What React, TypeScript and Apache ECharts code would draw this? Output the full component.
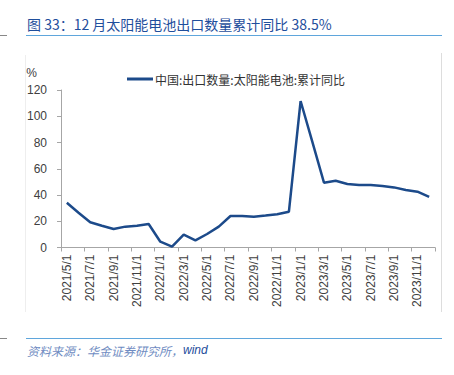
import React, { useEffect, useRef } from "react";
import * as echarts from "echarts";

const categories: string[] = [
  "2021/5/1", "2021/6/1", "2021/7/1", "2021/8/1", "2021/9/1", "2021/10/1", "2021/11/1", "2021/12/1",
  "2022/1/1", "2022/2/1", "2022/3/1", "2022/4/1", "2022/5/1", "2022/6/1", "2022/7/1", "2022/8/1",
  "2022/9/1", "2022/10/1", "2022/11/1", "2022/12/1",
  "2023/1/1", "2023/2/1", "2023/3/1", "2023/4/1", "2023/5/1", "2023/6/1", "2023/7/1", "2023/8/1",
  "2023/9/1", "2023/10/1", "2023/11/1", "2023/12/1",
];

const exportYoY: number[] = [
  34.1, 26.5, 19.2, 16.6, 14.1, 15.9, 16.6, 17.9,
  4.4, 0.6, 9.8, 5.5, 10.3, 15.9, 24.0, 24.0,
  23.5, 24.3, 25.3, 27.3,
  111.6, 80.6, 49.4, 50.9, 48.4, 47.6, 47.6, 46.9,
  45.8, 43.8, 42.5, 38.5,
];

const seriesName = "中国:出口数量:太阳能电池:累计同比";
const titleText = "图 33：12 月太阳能电池出口数量累计同比 38.5%";
const sourcePrefix = "资料来源：华金证券研究所，";
const sourceSuffix = "wind";
const yTicks = { min: 0, max: 120, interval: 20 };

export default function App() {
  const ref = useRef<HTMLDivElement>(null);
  useEffect(() => {
    document.body.style.margin = "0";
    if (!ref.current) return;
    const chart = echarts.init(ref.current, null, { renderer: "svg" });
    chart.setOption({
      animation: false,
      backgroundColor: "#ffffff",
      grid: { left: 61, right: 19, top: 90, bottom: 127.5, containLabel: false },
      legend: {
        top: 68,
        left: 122,
        itemWidth: 26,
        itemHeight: 3,
        itemGap: 2,
        icon: "rect",
        textStyle: { fontFamily: "Noto Sans CJK SC", fontSize: 12, color: "#333333", padding: [0, 0, 0, -3] },
        data: [{ name: seriesName, icon: "rect" }],
      },
      xAxis: {
        type: "category",
        data: categories,
        boundaryGap: true,
        axisLine: { lineStyle: { color: "#a6a6a6", width: 1 } },
        axisTick: { show: true, interval: 1, length: 4, lineStyle: { color: "#a6a6a6" } },
        axisLabel: {
          interval: 1,
          rotate: 90,
          margin: 7,
          fontSize: 12,
          fontFamily: "Liberation Sans, Arial, sans-serif",
          color: "#404040",
        },
      },
      yAxis: {
        type: "value",
        min: yTicks.min,
        max: yTicks.max,
        interval: yTicks.interval,
        name: "%",
        nameLocation: "end",
        nameGap: 11,
        nameTextStyle: { fontSize: 12, color: "#404040", fontFamily: "Liberation Sans, Arial, sans-serif", align: "right", padding: [0, 24, 0, 0] },
        axisLine: { show: true, lineStyle: { color: "#a6a6a6", width: 1 } },
        axisTick: { show: true, length: 4, lineStyle: { color: "#a6a6a6" } },
        splitLine: { show: false },
        axisLabel: {
          fontSize: 12,
          margin: 14,
          fontFamily: "Liberation Sans, Arial, sans-serif",
          color: "#404040",
        },
      },
      series: [
        {
          name: seriesName,
          type: "line",
          data: exportYoY,
          symbol: "none",
          lineStyle: { color: "#1c4a8a", width: 2.5 },
          itemStyle: { color: "#1c4a8a" },
        },
      ],
      graphic: [
        {
          type: "text",
          left: 27,
          top: 17,
          style: {
            text: titleText,
            fontSize: 14,
            fontFamily: "Noto Sans CJK SC",
            fill: "#1f4e9c",
          },
        },
        { type: "line", shape: { x1: 26, y1: 35.5, x2: 442, y2: 35.5 }, style: { stroke: "#5fa6dc", lineWidth: 1.2 } },
        { type: "line", shape: { x1: 26, y1: 338.5, x2: 442, y2: 338.5 }, style: { stroke: "#5fa6dc", lineWidth: 1.2 } },
        { type: "line", shape: { x1: 0, y1: 35.5, x2: 7, y2: 35.5 }, style: { stroke: "#888888", lineWidth: 1 } },
        { type: "line", shape: { x1: 0, y1: 338.5, x2: 7, y2: 338.5 }, style: { stroke: "#888888", lineWidth: 1 } },
        { type: "line", shape: { x1: 25.5, y1: 55, x2: 25.5, y2: 312 }, style: { stroke: "#eeeeee", lineWidth: 1 } },
        { type: "line", shape: { x1: 441.5, y1: 53, x2: 441.5, y2: 312 }, style: { stroke: "#dddddd", lineWidth: 1 } },
        {
          type: "text",
          left: 27,
          top: 344,
          style: {
            text: "{a|" + sourcePrefix + "}{b|" + sourceSuffix + "}",
            rich: {
              a: { fontSize: 12, fontStyle: "italic", fontFamily: "Noto Sans CJK SC", fill: "#6f8cc2", color: "#6f8cc2" },
              b: { fontSize: 12, fontStyle: "italic", fontFamily: "Liberation Sans, Arial, sans-serif", fill: "#1f4e9c", color: "#1f4e9c" },
            },
          },
        },
      ],
    });
    return () => chart.dispose();
  }, []);
  return <div ref={ref} style={{ width: 454, height: 375 }} />;
}
